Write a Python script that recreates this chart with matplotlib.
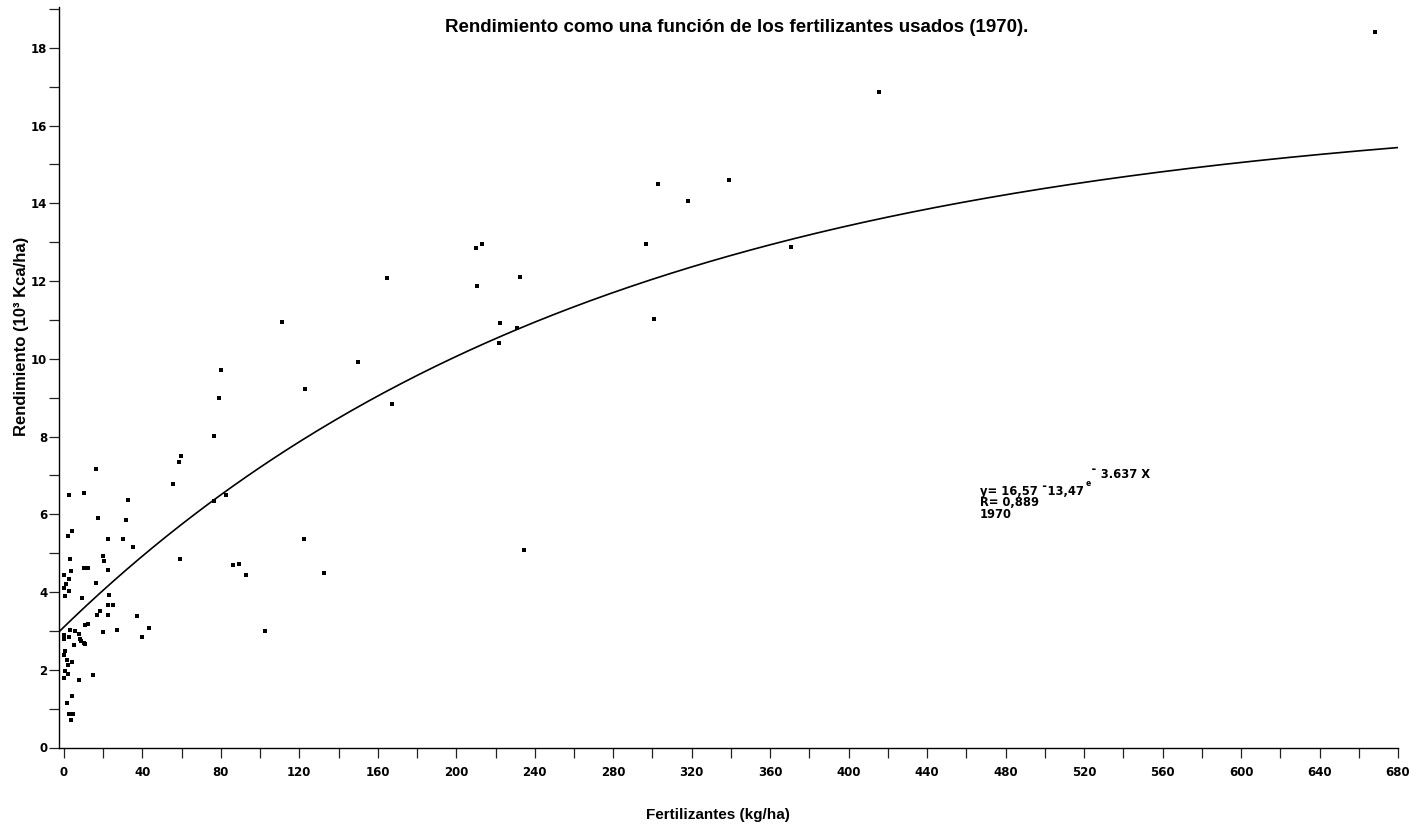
import numpy as np
import matplotlib
matplotlib.use("Agg")
import matplotlib.pyplot as plt
from matplotlib.ticker import MultipleLocator

plt.rcParams['font.family'] = ['Liberation Sans', 'DejaVu Sans']

# Scatter data (fertilizer kg/ha, yield)
fert = [668.2, 415.4, 338.9, 302.8, 318.0, 296.6, 370.5, 300.7, 210.0, 213.0,
        164.5, 232.4, 210.7, 222.2, 231.2, 221.6, 111.0, 150.0, 122.8, 167.2,
        234.3, 122.2, 132.5, 102.4, 80.2, 79.0, 76.6, 59.6, 58.8, 55.4,
        76.6, 82.6, 59.1, 86.3, 89.3, 92.9, 43.5, 35.0, 37.2, 39.9,
        16.5, 2.4, 10.3, 17.2, 32.5, 31.4, 29.9, 22.6, 4.1, 1.9,
        3.2, 19.7, 20.2, 3.6, 10.3, 12.5, 22.7, 0.3, 2.4, 1.0,
        0.2, 2.7, 0.4, 16.3, 9.0, 23.0, 22.7, 24.9, 18.3, 16.7,
        22.3, 12.2, 10.6, 27.1, 19.8, 0.2, 0.1, 3.1, 5.6, 7.6,
        2.4, 8.3, 8.5, 10.2, 11.0, 5.2, 0.8, 0.1, 1.4, 3.9,
        2.1, 0.4, 2.2, 0.05, 7.8, 14.8, 4.0, 1.5, 2.7, 4.7, 3.4]
yield_ = [18.41, 16.87, 14.61, 14.50, 14.06, 12.96, 12.88, 11.03, 12.85, 12.96,
          12.09, 12.11, 11.88, 10.93, 10.79, 10.41, 10.94, 9.93, 9.21, 8.83,
          5.08, 5.37, 4.50, 2.99, 9.71, 8.99, 8.02, 7.51, 7.34, 6.79,
          6.34, 6.50, 4.84, 4.70, 4.73, 4.45, 3.08, 5.17, 3.39, 2.84,
          7.17, 6.50, 6.54, 5.91, 6.37, 5.85, 5.37, 5.37, 5.57, 5.43,
          4.85, 4.93, 4.81, 4.55, 4.61, 4.61, 4.56, 4.45, 4.34, 4.20,
          4.10, 4.03, 3.91, 4.23, 3.84, 3.92, 3.67, 3.67, 3.52, 3.42,
          3.40, 3.19, 3.15, 3.01, 2.96, 2.90, 2.78, 3.01, 2.99, 2.93,
          2.83, 2.80, 2.75, 2.69, 2.67, 2.64, 2.49, 2.37, 2.24, 2.21,
          2.12, 1.98, 1.88, 1.78, 1.74, 1.87, 1.32, 1.15, 0.85, 0.85, 0.71]

# Fitted model stated on the chart: y = a - b * exp(-k x)
fit_a, fit_b, fit_k = 16.57, 13.47, 0.003637

x_major = list(range(0, 681, 40))
x_labels = [str(v) for v in x_major]
y_major = list(range(0, 19, 2))
y_labels = [str(v) for v in y_major]

W, H = 1419, 827
fig = plt.figure(figsize=(W / 100, H / 100), dpi=100)
ax = fig.add_axes([59 / W, 1 - 747.5 / H, (1398 - 59) / W, 740.5 / H])

xc = np.linspace(-2.5, 680, 400)
ax.plot(xc, fit_a - fit_b * np.exp(-fit_k * xc), color='black', lw=1.2)
ax.scatter(fert, yield_, s=12, marker='s', color='black', linewidths=0, zorder=3)

ax.set_xlim(-2.5, 680)
ax.set_ylim(0, 19.05)
ax.spines['top'].set_visible(False)
ax.spines['right'].set_visible(False)
for s in ('left', 'bottom'):
    ax.spines[s].set_linewidth(1.0)

ax.set_xticks(x_major)
ax.set_xticklabels(x_labels)
ax.set_yticks(y_major)
ax.set_yticklabels(y_labels)
ax.xaxis.set_minor_locator(MultipleLocator(20))
ax.yaxis.set_minor_locator(MultipleLocator(1))
ax.tick_params(which='both', direction='out', length=7, width=0.9, color='#222222')
ax.tick_params(axis='x', which='major', pad=6)
ax.tick_params(axis='y', which='major', pad=1.5)
for lab in ax.get_xticklabels() + ax.get_yticklabels():
    lab.set_fontfamily('DejaVu Sans')
    lab.set_fontweight('bold')
    lab.set_fontsize(8.5)

def fx(px):
    return px / W

def fy(py):
    return 1 - py / H

fig.text(fx(737), fy(28), 'Rendimiento como una función de los fertilizantes usados (1970).',
         ha='center', va='center', fontsize=13.5, fontweight='bold')
fig.text(fx(718), fy(815), 'Fertilizantes (kg/ha)', ha='center', va='center',
         fontsize=11, fontweight='bold')
fig.text(fx(22), fy(336), 'Rendimiento (10³ Kca/ha)', ha='center', va='center',
         rotation=90, fontsize=12, fontweight='bold')

ann = dict(ha='left', va='center', fontweight='bold', family='DejaVu Sans')
fs = 8.3
fig.text(fx(980), fy(492), 'y= 16,57 ¯13,47', fontsize=fs, **ann)
fig.text(fx(1086), fy(483), 'e', fontsize=5.5, **ann)
fig.text(fx(1091), fy(475), '¯ 3.637 X', fontsize=fs, **ann)
fig.text(fx(980), fy(503), 'R= 0,889', fontsize=fs, **ann)
fig.text(fx(980), fy(514), '1970', fontsize=fs, **ann)

fig.savefig('out.png', dpi=100)
